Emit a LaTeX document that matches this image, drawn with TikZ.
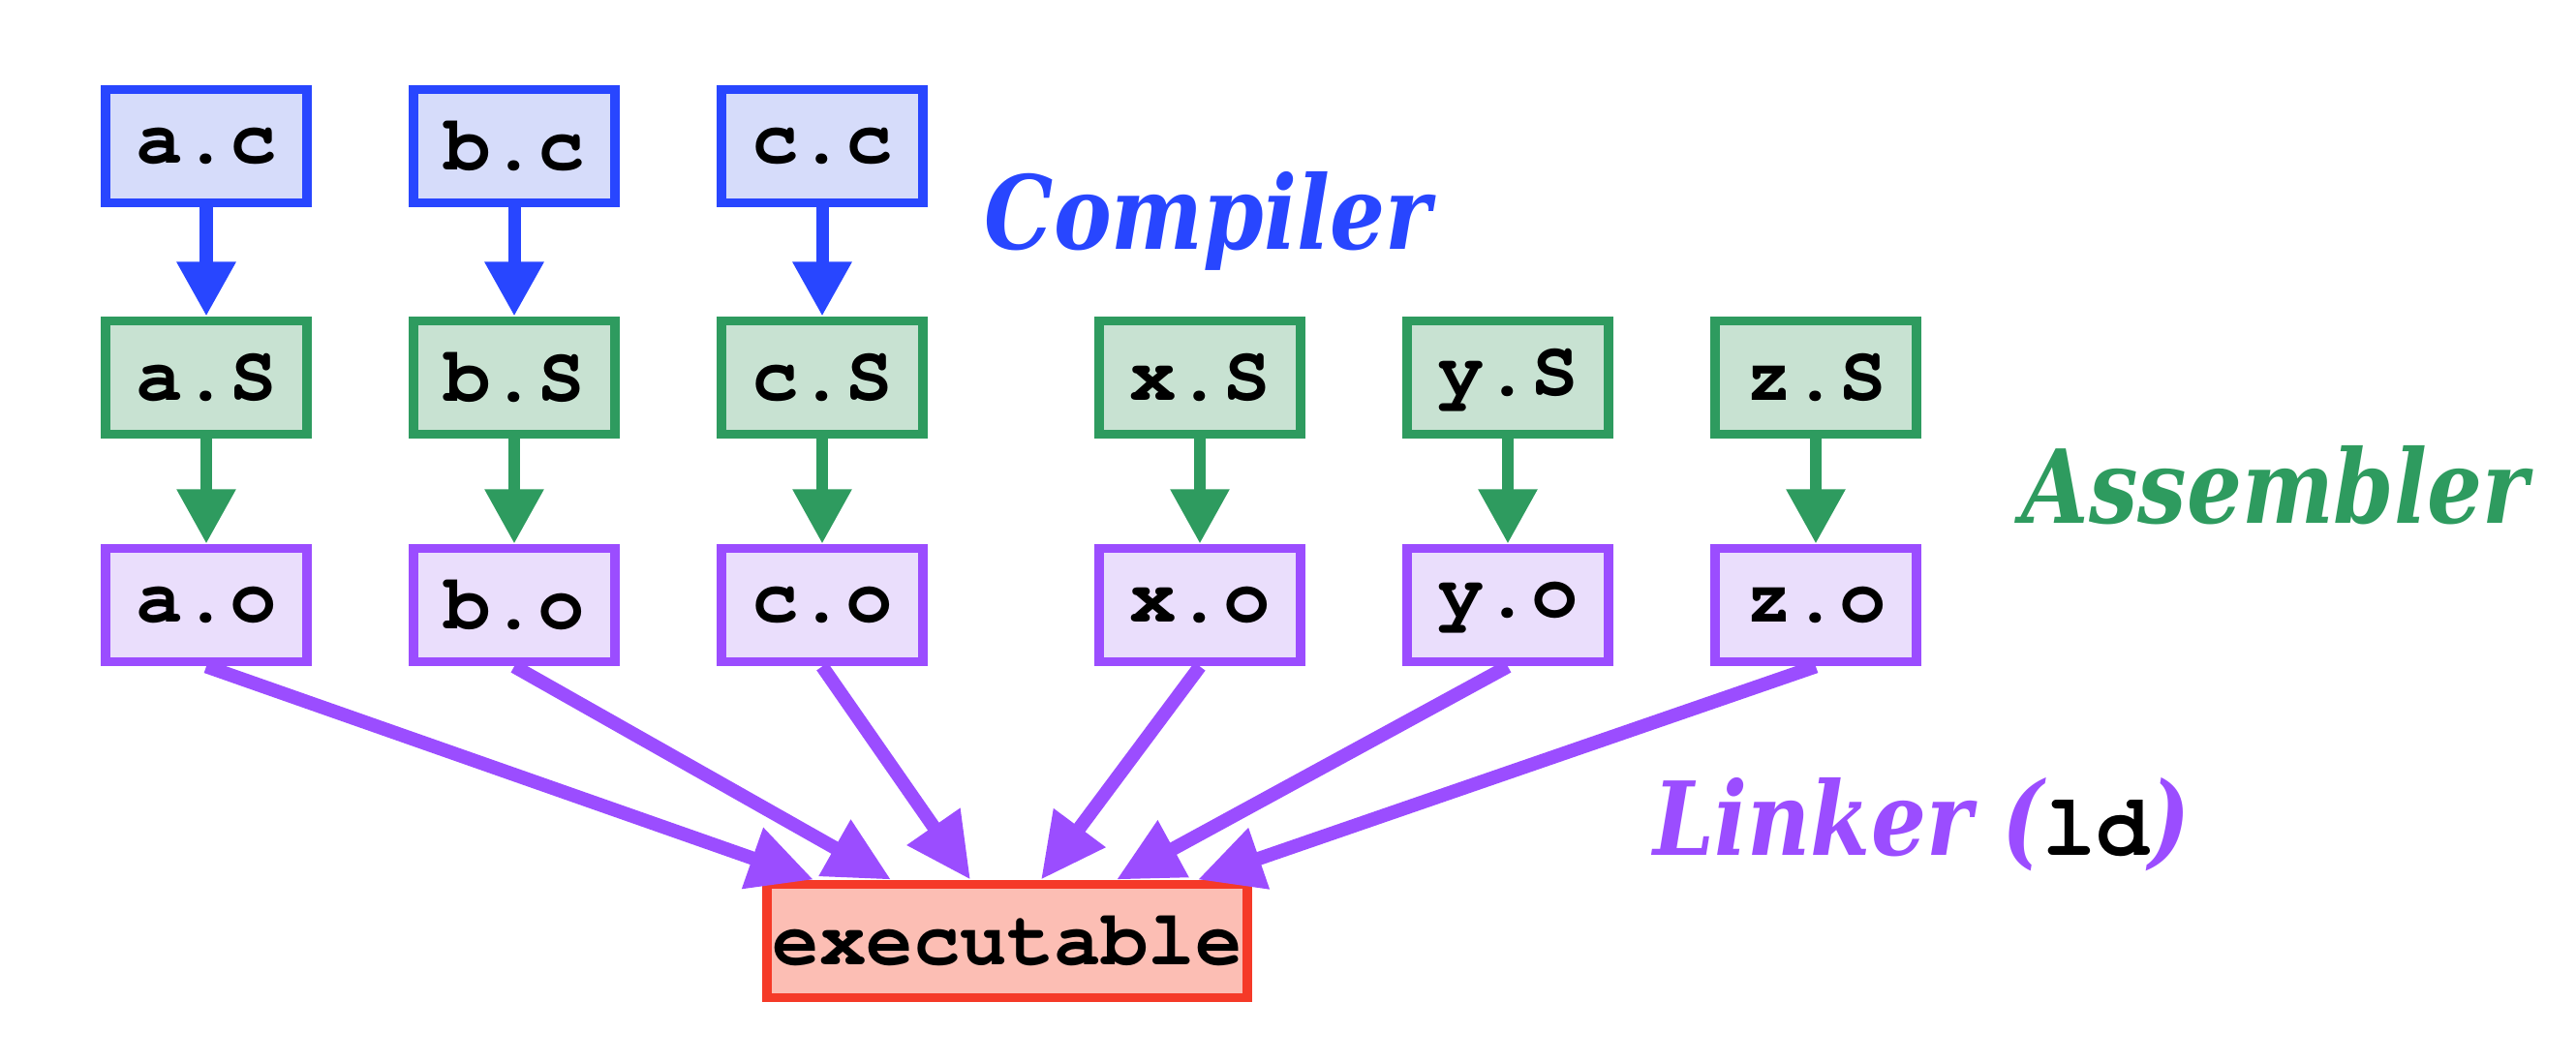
\documentclass[tikz,border=0pt]{standalone}
\usepackage[T1]{fontenc}
\usepackage{fontspec}
\newfontfamily\lblfont[FakeStretch=0.85]{DejaVu Serif}
\newcommand{\courb}{\fontencoding{T1}\fontfamily{pcr}\fontseries{b}\fontshape{n}\selectfont}
\usetikzlibrary{positioning,arrows.meta}

\definecolor{cblue}{RGB}{40,70,255}
\definecolor{fblue}{RGB}{214,220,250}
\definecolor{cgreen}{RGB}{46,155,95}
\definecolor{fgreen}{RGB}{200,226,210}
\definecolor{cpurple}{RGB}{155,77,255}
\definecolor{fpurple}{RGB}{234,222,252}
\definecolor{cred}{RGB}{245,58,40}
\definecolor{fred}{RGB}{252,190,180}

\begin{document}
\begin{tikzpicture}[
    fbox/.style={draw, line width=2.8pt, minimum width=2.08cm, minimum height=1.17cm,
      inner sep=0pt, font=\fontsize{23}{23}\courb},
    src/.style={fbox, draw=cblue, fill=fblue},
    asm/.style={fbox, draw=cgreen, fill=fgreen},
    obj/.style={fbox, draw=cpurple, fill=fpurple},
    bin/.style={fbox, draw=cred, fill=fred, minimum width=4.96cm},
    ccarrow/.style={line width=3.7pt, draw=cblue, -{Triangle[length=16pt,width=16.5pt]}},
    asarrow/.style={line width=3.5pt, draw=cgreen, -{Triangle[length=16pt,width=16.5pt]}},
    ldarrow/.style={line width=4pt, draw=cpurple, -{Triangle[length=19pt,width=18pt]}},
    lbl/.style={anchor=base west, inner sep=0pt,
      font=\fontsize{30}{30}\selectfont\lblfont\bfseries\itshape}
  ]
  \useasboundingbox (0,0) rectangle (26.6,-10.98);

  % sources
  \node[src] (ac) at (2.13,-1.51) {a.c};
  \node[src] (bc) at (5.31,-1.51) {b.c};
  \node[src] (cc) at (8.49,-1.51) {c.c};

  % assembly
  \node[asm] (aS) at (2.13,-3.90) {a.S};
  \node[asm] (bS) at (5.31,-3.90) {b.S};
  \node[asm] (cS) at (8.49,-3.90) {c.S};
  \node[asm] (xS) at (12.39,-3.90) {x.S};
  \node[asm] (yS) at (15.57,-3.90) {y.S};
  \node[asm] (zS) at (18.75,-3.90) {z.S};

  % objects
  \node[obj] (ao) at (2.13,-6.25) {a.o};
  \node[obj] (bo) at (5.31,-6.25) {b.o};
  \node[obj] (co) at (8.49,-6.25) {c.o};
  \node[obj] (xo) at (12.39,-6.25) {x.o};
  \node[obj] (yo) at (15.57,-6.25) {y.o};
  \node[obj] (zo) at (18.75,-6.25) {z.o};

  \node[bin] (exe) at (10.40,-9.72) {executable};

  % compiler
  \draw[ccarrow] (ac.south) -- (aS.north);
  \draw[ccarrow] (bc.south) -- (bS.north);
  \draw[ccarrow] (cc.south) -- (cS.north);

  % assembler
  \draw[asarrow] (aS.south) -- (ao.north);
  \draw[asarrow] (bS.south) -- (bo.north);
  \draw[asarrow] (cS.south) -- (co.north);
  \draw[asarrow] (xS.south) -- (xo.north);
  \draw[asarrow] (yS.south) -- (yo.north);
  \draw[asarrow] (zS.south) -- (zo.north);

  % linker
  \draw[ldarrow] (ao.south) -- ([xshift=-2.0cm]exe.north);
  \draw[ldarrow] (bo.south) -- ([xshift=-1.2cm]exe.north);
  \draw[ldarrow] (co.south) -- ([xshift=-0.38cm]exe.north);
  \draw[ldarrow] (xo.south) -- ([xshift=0.35cm]exe.north);
  \draw[ldarrow] (yo.south) -- ([xshift=1.13cm]exe.north);
  \draw[ldarrow] (zo.south) -- ([xshift=1.97cm]exe.north);

  \node[lbl, text=cblue] (lcc) at (10.16,-2.58) {Compiler};
  \node[lbl, text=cgreen] (las) at (20.87,-5.41) {Assembler};
  \node[lbl, text=cpurple] (lld) at (17.07,-8.84)
    {Linker (\textcolor{black}{\fontsize{26}{26}\courb ld})};
\end{tikzpicture}
\end{document}
